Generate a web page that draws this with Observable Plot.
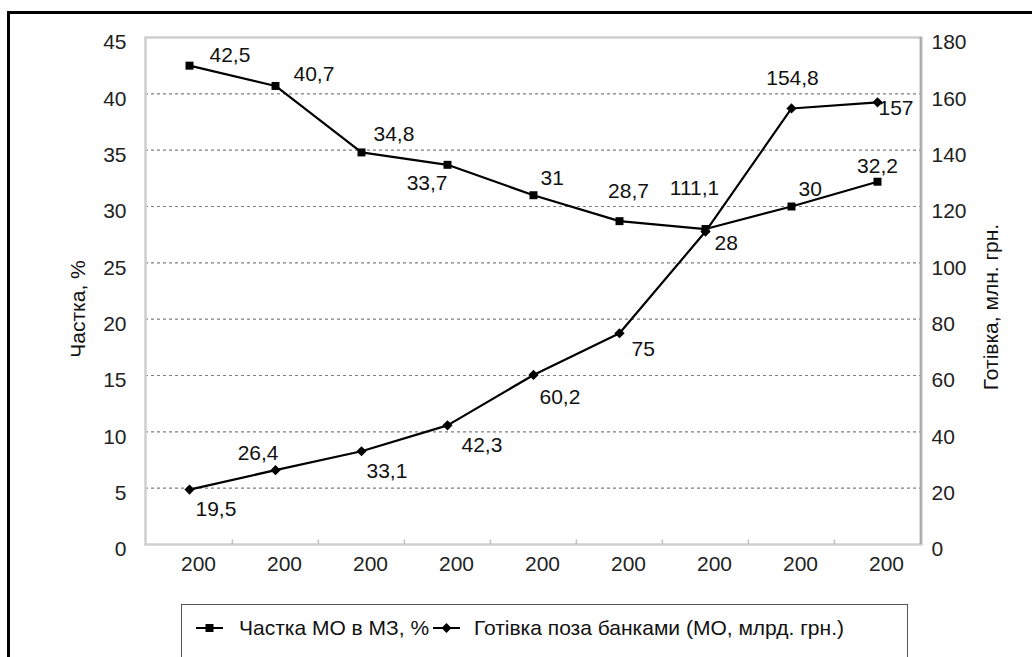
<!DOCTYPE html>
<html><head><meta charset="utf-8">
<script src="https://cdn.jsdelivr.net/npm/d3@7"></script>
<script src="https://cdn.jsdelivr.net/npm/@observablehq/plot@0.6"></script>
<style>
html,body{margin:0;padding:0;background:#fff;}
body{width:1032px;height:657px;overflow:hidden;position:relative;font-family:"Liberation Sans",Arial,sans-serif;color:#111;}
#frame{position:absolute;left:7px;top:11px;width:1100px;height:720px;border:3px solid #000;}
#chart{position:absolute;left:0;top:0;}
#legend{position:absolute;left:181px;top:604px;width:725px;height:80px;border:1px solid #555;background:#fff;}
.lg{position:absolute;top:11px;font-size:21px;line-height:24px;white-space:nowrap;}
.mk{position:absolute;top:14px;}
</style></head>
<body>
<div id="frame"></div>
<div id="chart"></div>
<div id="legend">
  <svg class="mk" style="left:13px" width="30" height="18"><line x1="1" y1="9" x2="28" y2="9" stroke="#000" stroke-width="2"/><rect x="10.5" y="5" width="8" height="8" fill="#000"/></svg>
  <span class="lg" style="left:57px">Частка МО в МЗ, %</span>
  <svg class="mk" style="left:250px" width="30" height="18"><line x1="1" y1="9" x2="28" y2="9" stroke="#000" stroke-width="2"/><path d="M14.5 4 L19.5 9 L14.5 14 L9.5 9 Z" fill="#000"/></svg>
  <span class="lg" style="left:292px">Готівка поза банками (МО, млрд. грн.)</span>
</div>
<script>
// ---- data ----
const years = ["2001","2002","2003","2004","2005","2006","2007","2008","2009"];
const xTickLabels = ["200","200","200","200","200","200","200","200","200"];
const shareMO = [42.5, 40.7, 34.8, 33.7, 31, 28.7, 28, 30, 32.2];   // Частка МО в МЗ, %
const cashMO = [19.5, 26.4, 33.1, 42.3, 60.2, 75, 111.1, 154.8, 157]; // Готівка поза банками
const yLeftTicks = [0, 5, 10, 15, 20, 25, 30, 35, 40, 45];
const yRightTicks = [0, 20, 40, 60, 80, 100, 120, 140, 160, 180];

// ---- label placement (pixel offsets, separate from data) ----
const shareLabelPlace = [[20,-10,"start"],[18,-12,"start"],[12,-18,"start"],[0,18,"end"],[7,-17,"start"],[9,-30,"middle"],[9,14,"start"],[7,-17,"start"],[0,-15,"middle"]];
const cashLabelPlace = [[6,20,"start"],[3,-17,"end"],[5,20,"start"],[14,20,"start"],[6,22,"start"],[12,16,"start"],[-11,-43,"middle"],[1,-30,"middle"],[1,6,"start"]];

const ratio = yRightTicks[yRightTicks.length-1] / yLeftTicks[yLeftTicks.length-1];
const fmt = v => String(v).replace(".", ",");
const rows1 = years.map((y,i) => ({year:y, v:shareMO[i], label:fmt(shareMO[i])}));
const rows2 = years.map((y,i) => ({year:y, v:cashMO[i]/ratio, label:fmt(cashMO[i])}));

const W = 1032, H = 600, mL = 145, mR = 111, mT = 37, mB = 56;
const bw = (W - mL - mR) / years.length;
const FS = 21;

const labelMarks = (rows, place) => rows.map((r,i) => Plot.text([r], {
  x:"year", y:"v", text:"label", dx:place[i][0], dy:place[i][1], textAnchor:place[i][2],
  fontSize:FS, fill:"#111"
}));

const chart = Plot.plot({
  width:W, height:H, marginLeft:mL, marginRight:mR, marginTop:mT, marginBottom:mB,
  style:{fontFamily:"'Liberation Sans', Arial, sans-serif", fontSize:FS+"px", color:"#111", background:"transparent", overflow:"visible"},
  x:{type:"band", domain:years, padding:0},
  y:{domain:[0, yLeftTicks[yLeftTicks.length-1]]},
  marks:[
    Plot.ruleY(yLeftTicks.filter(d => d > 0 && d < 45), {stroke:"#808080", strokeDasharray:"3,3", strokeWidth:1.2}),
    Plot.frame({stroke:"#cfcfcf", strokeWidth:2.5}),
    Plot.ruleX([years[years.length-1]], {dx:bw/2, stroke:"#a8a8a8", strokeWidth:2}),
    Plot.ruleX(years.slice(1), {y1:0, y2:0.4, dx:-bw/2, stroke:"#c0c0c0", strokeWidth:1.5}),
    Plot.axisY(yLeftTicks, {anchor:"left", tickSize:0, tickPadding:19, dy:5, fontSize:FS, label:null, fill:"#222"}),
    Plot.axisY(yLeftTicks, {anchor:"right", tickSize:0, tickPadding:10, dy:5, fontSize:FS, label:null, fill:"#222", tickFormat:d => d*ratio}),
    Plot.axisX({tickSize:0, tickPadding:12, dx:9, fontSize:FS, label:null, fill:"#222", tickFormat:d => xTickLabels[years.indexOf(d)]}),
    Plot.text(["Частка, %"], {text:d=>d, frameAnchor:"left", textAnchor:"middle", rotate:-90, dx:-67, dy:18, fontSize:FS, fill:"#111"}),
    Plot.text(["Готівка, млн. грн."], {text:d=>d, frameAnchor:"right", textAnchor:"middle", rotate:-90, dx:70, dy:16, fontSize:FS, fill:"#111"}),
    Plot.line(rows1, {x:"year", y:"v", stroke:"#000", strokeWidth:2.2}),
    Plot.line(rows2, {x:"year", y:"v", stroke:"#000", strokeWidth:2.2}),
    Plot.dot(rows1, {x:"year", y:"v", symbol:"square", r:4.5, fill:"#000"}),
    Plot.dot(rows2, {x:"year", y:"v", symbol:"diamond2", r:4.6, fill:"#000"}),
    ...labelMarks(rows1, shareLabelPlace),
    ...labelMarks(rows2, cashLabelPlace)
  ]
});
document.getElementById("chart").appendChild(chart);
</script>
</body></html>
